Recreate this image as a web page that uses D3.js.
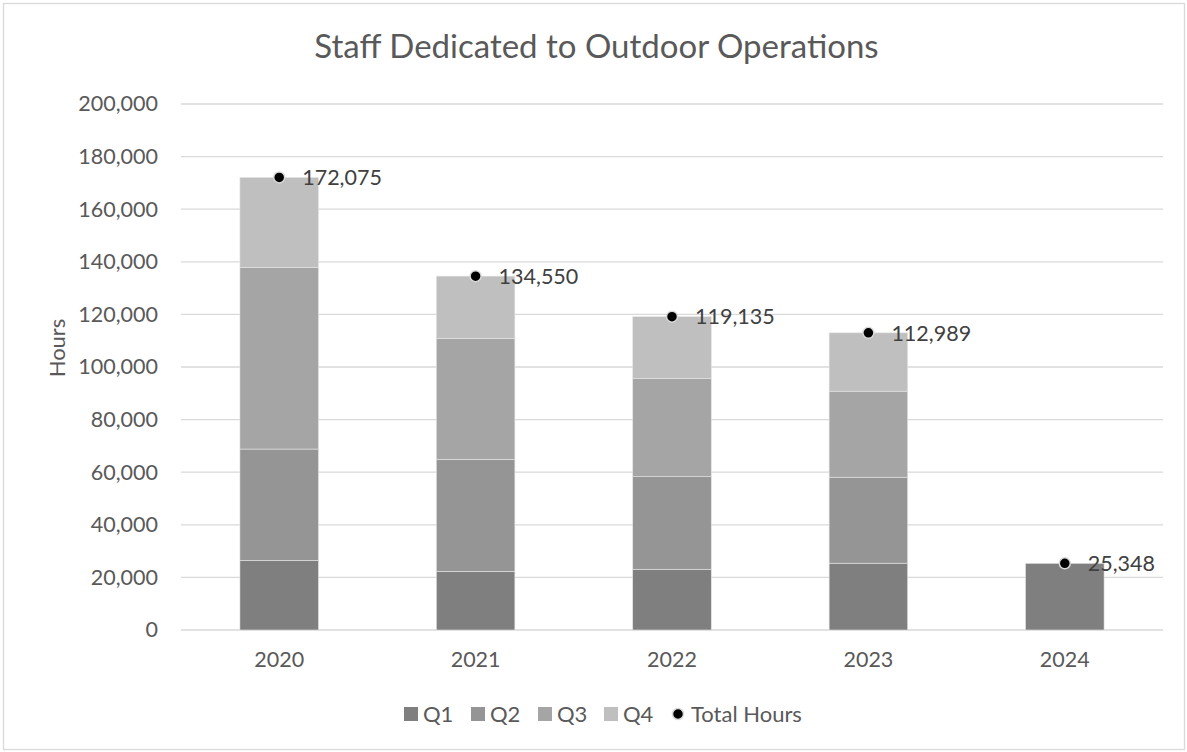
<!DOCTYPE html>
<html>
<head>
<meta charset="utf-8">
<script src="https://cdn.jsdelivr.net/npm/d3@7"></script>
<style>
  html, body { margin: 0; padding: 0; background: #fff; }
  svg { display: block; font-family: Lato, "Open Sans", sans-serif; }
</style>
</head>
<body>
<svg id="chart" width="1187" height="752"></svg>
<script>
// data
var years = ['2020', '2021', '2022', '2023', '2024'];
var seriesNames = ['Q1', 'Q2', 'Q3', 'Q4'];
var q1 = [26500, 22300, 23100, 25400, 25348];
var q2 = [42300, 42600, 35200, 32700, 0];
var q3 = [69000, 45900, 37300, 32700, 0];
var q4 = [34275, 23750, 23535, 22189, 0];
var totals = [172075, 134550, 119135, 112989, 25348];
var yTicks = [0, 20000, 40000, 60000, 80000, 100000, 120000, 140000, 160000, 180000, 200000];

var colors = ['#7f7f7f', '#959595', '#a5a5a5', '#bfbfbf'];
var textColor = '#595959';

var svg = d3.select('#chart');

var plot = { left: 181, right: 1163, top: 104, bottom: 630 };

/**
 * Scales
 */
var x = d3.scaleBand()
  .domain(years)
  .range([plot.left, plot.right])
  .paddingInner(0.6)
  .paddingOuter(0.3);

var y = d3.scaleLinear()
  .domain([0, 200000])
  .range([plot.bottom, plot.top]);

var fmt = d3.format(',');

// chart border
svg.append('rect')
  .attr('x', 3.5).attr('y', 3.5)
  .attr('width', 1181).attr('height', 746)
  .attr('fill', 'none')
  .attr('stroke', '#d9d9d9')
  .attr('stroke-width', 1.3);

// title
svg.append('text')
  .attr('x', 596.5)
  .attr('y', 58)
  .attr('text-anchor', 'middle')
  .attr('fill', textColor)
  .style('font-size', '33px')
  .text('Staff Dedicated to Outdoor Operations');

// gridlines
svg.append('g')
  .attr('class', 'grid')
  .selectAll('line')
  .data(yTicks)
  .enter()
  .append('line')
  .attr('x1', plot.left)
  .attr('x2', plot.right)
  .attr('y1', function (d) { return y(d); })
  .attr('y2', function (d) { return y(d); })
  .attr('stroke', '#d9d9d9')
  .attr('stroke-width', 1.3);

// y axis labels
var yAxis = svg.append('g')
  .attr('transform', 'translate(158,0)')
  .call(d3.axisLeft(y).tickValues(yTicks).tickFormat(fmt).tickSize(0).tickPadding(0));
yAxis.select('.domain').remove();
yAxis.selectAll('text')
  .attr('fill', textColor)
  .style('font-size', '21.5px')
  .style('font-family', 'Lato, sans-serif');

svg.append('text')
  .attr('transform', 'translate(65,348) rotate(-90)')
  .attr('text-anchor', 'middle')
  .attr('fill', textColor)
  .style('font-size', '22px')
  .text('Hours');

// x axis labels
var xAxis = svg.append('g')
  .attr('transform', 'translate(0,' + plot.bottom + ')')
  .call(d3.axisBottom(x).tickSize(0).tickPadding(22));
xAxis.select('.domain').remove();
xAxis.selectAll('text')
  .attr('fill', textColor)
  .style('font-size', '21.5px')
  .style('font-family', 'Lato, sans-serif');

/**
 * Stacked bars
 */
var rows = years.map(function (yr, i) {
  return { year: yr, Q1: q1[i], Q2: q2[i], Q3: q3[i], Q4: q4[i] };
});
var stacked = d3.stack().keys(seriesNames)(rows);

svg.append('g')
  .selectAll('g.series')
  .data(stacked)
  .enter()
  .append('g')
  .attr('class', 'series')
  .attr('fill', function (d, i) { return colors[i]; })
  .selectAll('rect')
  .data(function (d) { return d.filter(function (s) { return s[1] > s[0]; }); })
  .enter()
  .append('rect')
  .attr('x', function (d) { return x(d.data.year); })
  .attr('width', x.bandwidth())
  .attr('y', function (d) { return y(d[1]); })
  .attr('height', function (d) { return y(d[0]) - y(d[1]); })
  .attr('stroke', '#e4e4e4')
  .attr('stroke-width', 0.6);

/**
 * Total markers + labels
 */
var totalG = svg.append('g')
  .selectAll('g.total')
  .data(totals)
  .enter()
  .append('g')
  .attr('class', 'total')
  .attr('transform', function (d, i) {
    return 'translate(' + (x(years[i]) + x.bandwidth() / 2) + ',' + y(d) + ')';
  });

totalG.append('circle')
  .attr('r', 5.5)
  .attr('fill', '#000')
  .attr('stroke', '#d9d9d9')
  .attr('stroke-width', 1.5);

totalG.append('text')
  .attr('x', 23)
  .attr('dy', '0.36em')
  .attr('fill', '#404040')
  .style('font-size', '21.5px')
  .text(function (d) { return fmt(d); });

/**
 * Legend
 */
var legendItems = [
  { name: 'Q1', x: 404, color: colors[0] },
  { name: 'Q2', x: 471, color: colors[1] },
  { name: 'Q3', x: 538, color: colors[2] },
  { name: 'Q4', x: 604, color: colors[3] }
];

var legend = svg.append('g').attr('class', 'legend');

var legendEnter = legend.selectAll('g.item')
  .data(legendItems)
  .enter()
  .append('g')
  .attr('class', 'item')
  .attr('transform', function (d) { return 'translate(' + d.x + ',714)'; });

legendEnter.append('rect')
  .attr('x', 0).attr('y', -7)
  .attr('width', 14).attr('height', 14)
  .attr('fill', function (d) { return d.color; });

legendEnter.append('text')
  .attr('x', 19)
  .attr('dy', '0.36em')
  .attr('fill', textColor)
  .style('font-size', '22px')
  .text(function (d) { return d.name; });

var totalLegend = legend.append('g').attr('transform', 'translate(678,714)');
totalLegend.append('circle')
  .attr('r', 5.5)
  .attr('fill', '#000')
  .attr('stroke', '#d9d9d9')
  .attr('stroke-width', 1.5);
totalLegend.append('text')
  .attr('x', 13)
  .attr('dy', '0.36em')
  .attr('fill', textColor)
  .style('font-size', '22px')
  .text('Total Hours');
</script>
</body>
</html>
